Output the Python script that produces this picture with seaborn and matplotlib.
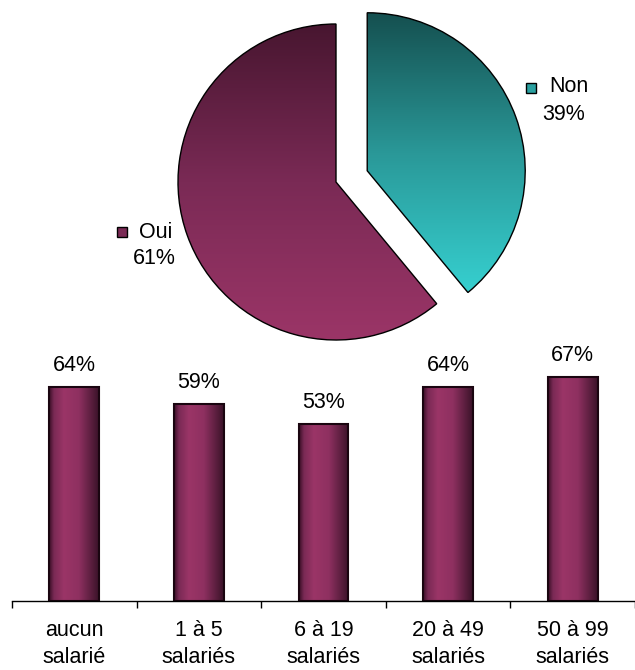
import numpy as np
import matplotlib
matplotlib.use("Agg")
import matplotlib.pyplot as plt
from matplotlib.colors import LinearSegmentedColormap
from matplotlib.patches import Rectangle
import seaborn as sns

# pie data
pie_labels = ["Non", "Oui"]
pie_values = [39, 61]

# bar data
bar_categories = ["aucun\nsalarié", "1 à 5\nsalariés", "6 à 19\nsalariés",
                  "20 à 49\nsalariés", "50 à 99\nsalariés"]
bar_values = [64, 59, 53, 64, 67]

W, H = 635, 670
FS = 15.5


def px(x, y):
    # pixel (from top-left) -> figure fraction
    return x / W, 1 - y / H


sns.set_theme(style="white")
plt.rcParams["font.family"] = ["Liberation Sans", "DejaVu Sans"]

fig = plt.figure(figsize=(W / 100, H / 100), dpi=100)
fig.patch.set_facecolor("white")

# ---------- pie ----------
R = 158.0
cx, cy = 336, 182
a, b = 1.6, 1.12
ax_pie = fig.add_axes([(cx - a * R) / W, (H - (cy + b * R)) / H,
                       2 * a * R / W, 2 * b * R / H])
wedges, _ = ax_pie.pie(pie_values, startangle=90, counterclock=False,
                       explode=[0.21, 0],
                       wedgeprops=dict(edgecolor="black", linewidth=1.0))
ax_pie.set_xlim(-a, a)
ax_pie.set_ylim(-b, b)
ax_pie.set_aspect("auto")
ax_pie.axis("off")

pie_cmaps = {
    "Non": LinearSegmentedColormap.from_list("non", ["#155050", "#2a9898", "#36d0d0"]),
    "Oui": LinearSegmentedColormap.from_list("oui", ["#481630", "#7a2a55", "#9b3567"]),
}
grad_v = np.linspace(0, 1, 256).reshape(-1, 1)
for w, lab in zip(wedges, pie_labels):
    ext = w.get_path().get_extents()
    w.set_facecolor("none")
    im = ax_pie.imshow(grad_v, cmap=pie_cmaps[lab], aspect="auto",
                       extent=[ext.x0, ext.x1, ext.y0, ext.y1],
                       origin="upper", zorder=w.get_zorder() - 0.1)
    im.set_clip_path(w)
ax_pie.set_xlim(-a, a)
ax_pie.set_ylim(-b, b)

# pie labels with small square keys
key_cols = {"Non": "#2aa0a0", "Oui": "#7a2a55"}
label_pos = {"Non": ((526, 83), (549, 87), (564, 115)),
             "Oui": ((117, 227), (139, 232), (154, 259))}
for lab, val in zip(pie_labels, pie_values):
    (kx, ky), (tx, ty), (px2, py2) = label_pos[lab]
    x0, y0 = px(kx, ky + 10)
    fig.patches.append(Rectangle((x0, y0), 10 / W, 10 / H, transform=fig.transFigure,
                                 facecolor=key_cols[lab], edgecolor="black", linewidth=1.0))
    fig.text(*px(tx, ty), lab, fontsize=FS, ha="left", va="center", color="black")
    fig.text(*px(px2, py2), f"{val}%", fontsize=FS, ha="center", va="center", color="black")

# ---------- bars ----------
ax_bar = fig.add_axes([12 / W, 69 / H, 623 / W, 250.5 / H])
sns.barplot(x=list(range(len(bar_values))), y=bar_values, ax=ax_bar,
            width=0.4, color="#993366", edgecolor="#1a0510", linewidth=1.5)
ax_bar.set_xlim(-0.5, 4.5)
ax_bar.set_ylim(0, 75)

bar_cmap = LinearSegmentedColormap.from_list(
    "bar", [(0, "#3a0e26"), (0.1, "#7a2a55"), (0.3, "#9b3567"),
            (0.6, "#8e3060"), (0.85, "#5a1e3e"), (1, "#3a1228")])
grad_h = np.linspace(0, 1, 256).reshape(1, -1)
for p, v in zip(ax_bar.patches, bar_values):
    x, y, w, h = p.get_x(), p.get_y(), p.get_width(), p.get_height()
    im = ax_bar.imshow(grad_h, cmap=bar_cmap, aspect="auto",
                       extent=[x, x + w, y, y + h], zorder=p.get_zorder() + 0.1)
    im.set_clip_path(p)
    p.set_zorder(p.get_zorder() + 0.2)
    p.set_facecolor("none")
    ax_bar.annotate(f"{v}%", (x + w / 2, y + h), xytext=(0, 8),
                    textcoords="offset points", ha="center", va="bottom",
                    fontsize=FS, color="black")
ax_bar.set_xlim(-0.5, 4.5)
ax_bar.set_ylim(0, 75)

for s in ["top", "right", "left"]:
    ax_bar.spines[s].set_visible(False)
ax_bar.spines["bottom"].set_color("black")
ax_bar.spines["bottom"].set_linewidth(1.0)
ax_bar.set_yticks([])
ax_bar.set_xticks(range(len(bar_categories)))
ax_bar.set_xticklabels(bar_categories, fontsize=FS, linespacing=1.4)
ax_bar.set_xticks(np.arange(-0.5, 5, 1), minor=True)
ax_bar.tick_params(axis="x", which="major", length=0, pad=13.5, colors="black")
ax_bar.tick_params(axis="x", which="minor", length=5, width=1.0, color="black",
                   direction="out", bottom=True)
ax_bar.set_xlabel("")
ax_bar.set_ylabel("")
ax_bar.set_facecolor("none")

fig.savefig("out.png", dpi=100, facecolor="white")
